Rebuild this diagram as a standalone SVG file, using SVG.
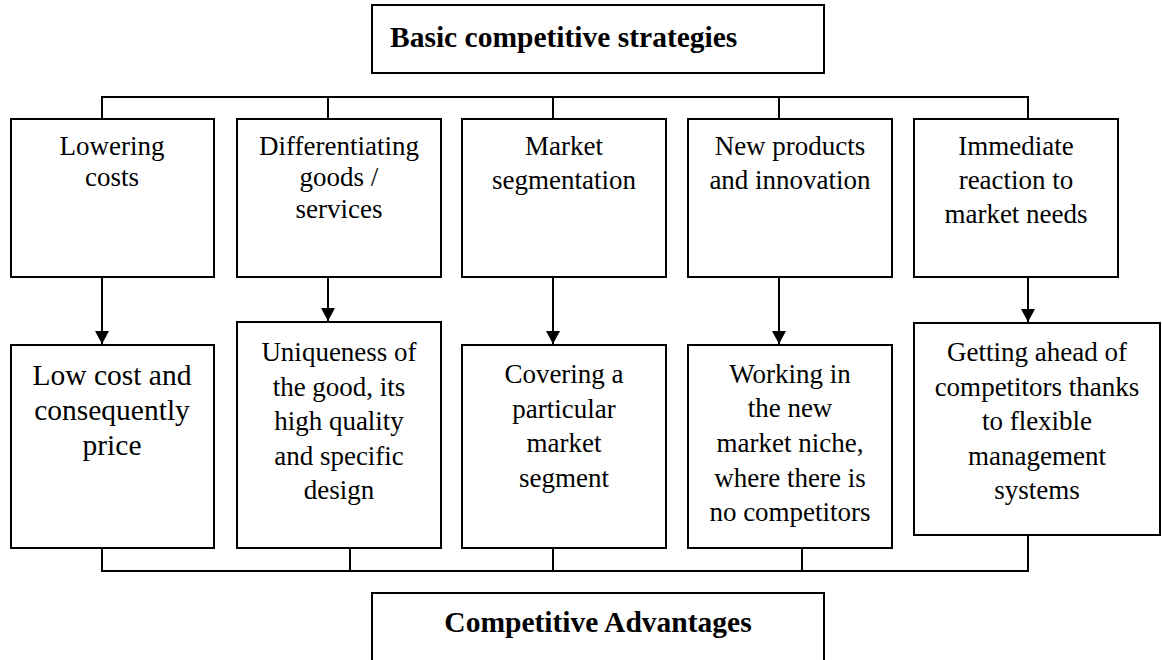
<svg xmlns="http://www.w3.org/2000/svg" width="1162" height="660" viewBox="0 0 1162 660">
  <style>
    .box { fill: #ffffff; stroke: #000000; stroke-width: 2; }
    .wire { fill: none; stroke: #000000; stroke-width: 2; }
    .title { font-family: "Liberation Serif", "Times New Roman", serif; font-weight: bold; font-size: 29.5px; fill: #000000; }
    .lbl { font-family: "Liberation Serif", "Times New Roman", serif; font-size: 27px; fill: #000000; text-anchor: middle; }
    .big { font-size: 29.5px; }
  </style>
  <defs>
    <marker id="arrow" markerWidth="14" markerHeight="14" refX="13" refY="7" orient="auto" markerUnits="userSpaceOnUse">
      <path d="M0,0 L13,7 L0,14 Z" fill="#000000"/>
    </marker>
  </defs>

  <!-- connectors -->
  <g id="connectors">
    <!-- top bus -->
    <path class="wire" d="M102,119 V97 H1028 V119 M328,97 V119 M553,97 V119 M779,97 V119"/>
    <!-- strategy to advantage arrows -->
    <line class="wire" x1="102" y1="277" x2="102" y2="344" marker-end="url(#arrow)"/>
    <line class="wire" x1="328" y1="277" x2="328" y2="321" marker-end="url(#arrow)"/>
    <line class="wire" x1="553" y1="277" x2="553" y2="344" marker-end="url(#arrow)"/>
    <line class="wire" x1="779" y1="277" x2="779" y2="344" marker-end="url(#arrow)"/>
    <line class="wire" x1="1028" y1="277" x2="1028" y2="322" marker-end="url(#arrow)"/>
    <!-- bottom bus -->
    <path class="wire" d="M102,548 V571 H1028 V535 M350,548 V571 M553,548 V571 M802,548 V571"/>
  </g>

  <g id="basic-strategies">
    <rect class="box" x="372" y="5" width="452" height="68"/>
    <text class="title" x="390" y="47">Basic competitive strategies</text>
  </g>

  <!-- strategies -->
  <g id="lowering-costs">
    <rect class="box" x="11" y="119" width="203" height="158"/>
    <text class="lbl" x="112" y="155">Lowering</text>
    <text class="lbl" x="112" y="186">costs</text>
  </g>
  <g id="differentiating">
    <rect class="box" x="237" y="119" width="204" height="158"/>
    <text class="lbl" x="339" y="155">Differentiating</text>
    <text class="lbl" x="339" y="186">goods /</text>
    <text class="lbl" x="339" y="218">services</text>
  </g>
  <g id="market-segmentation">
    <rect class="box" x="462" y="119" width="204" height="158"/>
    <text class="lbl" x="564" y="155">Market</text>
    <text class="lbl" x="564" y="189">segmentation</text>
  </g>
  <g id="new-products">
    <rect class="box" x="688" y="119" width="204" height="158"/>
    <text class="lbl" x="790" y="155">New products</text>
    <text class="lbl" x="790" y="189">and innovation</text>
  </g>
  <g id="immediate-reaction">
    <rect class="box" x="914" y="119" width="204" height="158"/>
    <text class="lbl" x="1016" y="155">Immediate</text>
    <text class="lbl" x="1016" y="189">reaction to</text>
    <text class="lbl" x="1016" y="223">market needs</text>
  </g>

  <!-- advantages -->
  <g id="low-cost">
    <rect class="box" x="11" y="345" width="203" height="203"/>
    <text class="lbl big" x="112" y="385">Low cost and</text>
    <text class="lbl big" x="112" y="420">consequently</text>
    <text class="lbl big" x="112" y="455">price</text>
  </g>
  <g id="uniqueness">
    <rect class="box" x="237" y="322" width="204" height="226"/>
    <text class="lbl" x="339" y="361">Uniqueness of</text>
    <text class="lbl" x="339" y="396">the good, its</text>
    <text class="lbl" x="339" y="430">high quality</text>
    <text class="lbl" x="339" y="465">and specific</text>
    <text class="lbl" x="339" y="499">design</text>
  </g>
  <g id="covering-segment">
    <rect class="box" x="462" y="345" width="204" height="203"/>
    <text class="lbl" x="564" y="383">Covering a</text>
    <text class="lbl" x="564" y="418">particular</text>
    <text class="lbl" x="564" y="452">market</text>
    <text class="lbl" x="564" y="487">segment</text>
  </g>
  <g id="new-niche">
    <rect class="box" x="688" y="345" width="204" height="203"/>
    <text class="lbl" x="790" y="383">Working in</text>
    <text class="lbl" x="790" y="417">the new</text>
    <text class="lbl" x="790" y="452">market niche,</text>
    <text class="lbl" x="790" y="487">where there is</text>
    <text class="lbl" x="790" y="521">no competitors</text>
  </g>
  <g id="getting-ahead">
    <rect class="box" x="914" y="323" width="246" height="212"/>
    <text class="lbl" x="1037" y="361">Getting ahead of</text>
    <text class="lbl" x="1037" y="396">competitors thanks</text>
    <text class="lbl" x="1037" y="430">to flexible</text>
    <text class="lbl" x="1037" y="465">management</text>
    <text class="lbl" x="1037" y="499">systems</text>
  </g>

  <g id="competitive-advantages">
    <rect class="box" x="372" y="593" width="452" height="80"/>
    <text class="title" x="598" y="632" text-anchor="middle">Competitive Advantages</text>
  </g>
</svg>
